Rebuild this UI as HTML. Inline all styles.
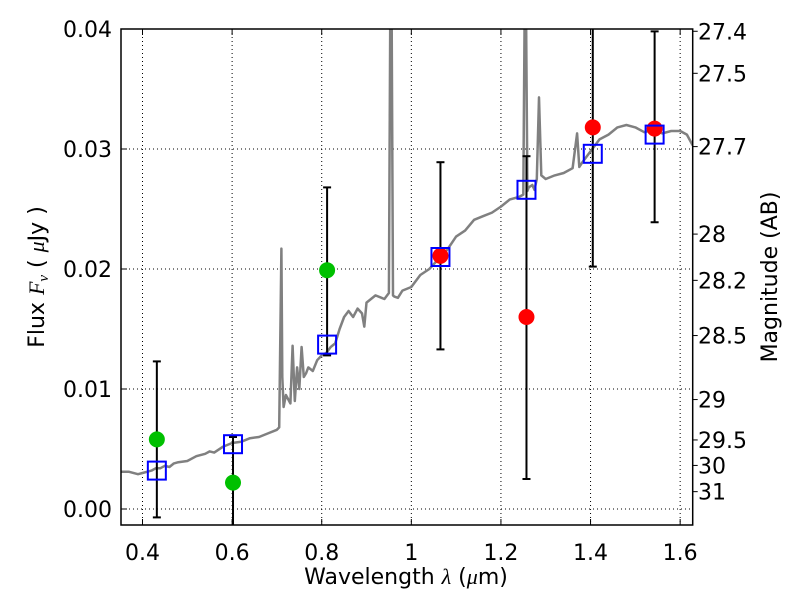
<!DOCTYPE html>
<html><head><meta charset="utf-8"><style>
body{margin:0;background:#fff}
svg{display:block;font-family:"DejaVu Sans","Liberation Sans",sans-serif}
</style></head><body>
<svg id="chart" width="800" height="600" viewBox="0 0 800 600"></svg>
<script>
const specWave=[0.352,0.37,0.39,0.40,0.41,0.42,0.43,0.44,0.45,0.46,0.47,0.48,0.50,0.52,0.54,0.55,0.56,0.58,0.60,0.62,0.64,0.66,0.68,0.70,0.705,0.71,0.712,0.715,0.72,0.73,0.735,0.74,0.745,0.75,0.755,0.76,0.765,0.77,0.78,0.79,0.80,0.81,0.82,0.83,0.84,0.85,0.86,0.87,0.88,0.89,0.895,0.90,0.92,0.94,0.95,0.953,0.956,0.959,0.962,0.97,0.98,1.0,1.02,1.04,1.06,1.08,1.10,1.12,1.14,1.16,1.18,1.20,1.22,1.24,1.25,1.253,1.256,1.259,1.262,1.27,1.275,1.28,1.285,1.29,1.30,1.32,1.34,1.36,1.37,1.375,1.38,1.40,1.42,1.44,1.46,1.48,1.50,1.52,1.54,1.56,1.58,1.60,1.615,1.628];
const specFlux=[0.0031,0.0031,0.0029,0.0030,0.0031,0.0032,0.0034,0.0034,0.0036,0.0035,0.0038,0.0039,0.0040,0.0044,0.0046,0.0048,0.0047,0.0052,0.0055,0.0056,0.0059,0.0060,0.0063,0.0066,0.0068,0.0217,0.0110,0.0085,0.0095,0.0088,0.0136,0.0090,0.0118,0.0100,0.0135,0.0110,0.0113,0.0118,0.0115,0.0124,0.0128,0.0130,0.0135,0.0138,0.0150,0.0160,0.0165,0.0160,0.0167,0.0163,0.0152,0.0172,0.0178,0.0175,0.0180,0.0420,0.0420,0.0178,0.0177,0.0176,0.0182,0.0185,0.0195,0.0200,0.0208,0.0216,0.0227,0.0232,0.0241,0.0244,0.0247,0.0252,0.0258,0.0260,0.0262,0.0420,0.0420,0.0265,0.0268,0.0270,0.0266,0.0275,0.0343,0.0278,0.0275,0.0278,0.0280,0.0284,0.0313,0.0285,0.0288,0.0298,0.0308,0.0312,0.0318,0.0320,0.0318,0.0314,0.0316,0.0313,0.0315,0.0315,0.0312,0.0303];
const sqWave=[0.432,0.602,0.812,1.065,1.257,1.405,1.543];
const sqFlux=[0.0032,0.0054,0.0137,0.0210,0.0266,0.0296,0.0312];
const greenWave=[0.432,0.602,0.812];
const greenFlux=[0.0058,0.0022,0.0199];
const redWave=[1.065,1.257,1.405,1.543];
const redFlux=[0.0211,0.0160,0.0318,0.0317];
const errWave=[0.432,0.602,0.812,1.065,1.257,1.405,1.543];
const errLow=[-0.0007,-0.0030,0.0128,0.0133,0.0025,0.0202,0.0239];
const errHigh=[0.0123,0.0060,0.0268,0.0289,0.0294,0.0420,0.0398];
const xTicks=[0.4,0.6,0.8,1.0,1.2,1.4,1.6];
const xTickLabels=["0.4","0.6","0.8","1","1.2","1.4","1.6"];
const yTicks=[0,0.01,0.02,0.03,0.04];
const yTickLabels=["0.00","0.01","0.02","0.03","0.04"];
const magTicks=[27.4,27.5,27.7,28,28.2,28.5,29,29.5,30,31];

const L=121,R=692.7,T=29,B=525;
const x0=0.352,x1=1.628;
const xs=v=>L+(v-x0)/(x1-x0)*(R-L);
const ys=v=>509-v*12000;
const NS="http://www.w3.org/2000/svg";
const svg=document.getElementById('chart');
function mk(tag,attrs,parent){const e=document.createElementNS(NS,tag);for(const k in attrs)e.setAttribute(k,attrs[k]);(parent||svg).appendChild(e);return e;}
const defs=mk('defs',{});const cp=mk('clipPath',{id:'clip'},defs);mk('rect',{x:L,y:T,width:R-L,height:B-T},cp);
const grid=mk('g',{stroke:'#000','stroke-width':1,'stroke-dasharray':'1,3'});


xTicks.forEach(t=>{const l=mk('line',{x1:xs(t),x2:xs(t),y1:T,y2:B},grid);

});
yTicks.forEach(t=>{const l=mk('line',{x1:L,x2:R,y1:ys(t),y2:ys(t)},grid);

});
const plot=mk('g',{'clip-path':'url(#clip)'});
const pts=specWave.map((w,i)=>xs(w).toFixed(1)+','+ys(specFlux[i]).toFixed(1)).join(' ');
const sp=mk('polyline',{points:pts,fill:'none',stroke:'#808080','stroke-width':2.5,'stroke-linejoin':'round'},plot);


errWave.forEach((w,i)=>{const g=mk('g',{stroke:'#000','stroke-width':2},plot);


const x=xs(w);mk('line',{x1:x,x2:x,y1:ys(errLow[i]),y2:ys(errHigh[i])},g);
mk('line',{x1:x-4,x2:x+4,y1:ys(errLow[i]),y2:ys(errLow[i])},g);
mk('line',{x1:x-4,x2:x+4,y1:ys(errHigh[i]),y2:ys(errHigh[i])},g);});
greenWave.forEach((w,i)=>{const c=mk('circle',{cx:xs(w),cy:ys(greenFlux[i]),r:8,fill:'#00c000'},plot);

});
redWave.forEach((w,i)=>{const c=mk('circle',{cx:xs(w),cy:ys(redFlux[i]),r:8,fill:'#ff0000'},plot);

});
sqWave.forEach((w,i)=>{const s=mk('rect',{x:xs(w)-9,y:ys(sqFlux[i])-9,width:18,height:18,fill:'none',stroke:'#0000ff','stroke-width':2},plot);

});
const frame=mk('rect',{x:L,y:T,width:R-L,height:B-T,fill:'none',stroke:'#000','stroke-width':1.5});


xTicks.forEach((t,i)=>{mk('line',{x1:xs(t),x2:xs(t),y1:B,y2:B-6,stroke:'#000'});mk('line',{x1:xs(t),x2:xs(t),y1:T,y2:T+6,stroke:'#000'});
const tx=mk('text',{x:xs(t),y:560,'text-anchor':'middle','font-size':22});tx.textContent=xTickLabels[i];

});
yTicks.forEach((t,i)=>{mk('line',{x1:L,x2:L+6,y1:ys(t),y2:ys(t),stroke:'#000'});
const tx=mk('text',{x:112,y:ys(t)+8,'text-anchor':'end','font-size':22});tx.textContent=yTickLabels[i];

});
magTicks.forEach(m=>{const y=ys(Math.pow(10,(23.9-m)/2.5));mk('line',{x1:R,x2:R+5,y1:y,y2:y,stroke:'#000'});
const tx=mk('text',{x:698,y:y+8,'font-size':22});tx.textContent=String(m);

});
svg.insertAdjacentHTML('beforeend',
'<text x="406" y="584" text-anchor="middle" font-size="22">Wavelength  <tspan font-style="italic" font-family="Liberation Serif,serif">λ</tspan> (<tspan font-style="italic" font-family="Liberation Serif,serif">μ</tspan>m)</text>'+
'<text transform="translate(44,277) rotate(-90)" text-anchor="middle" font-size="22">Flux  <tspan font-style="italic" font-family="Liberation Serif,serif">F</tspan><tspan font-style="italic" font-family="Liberation Serif,serif" font-size="15" dy="4">ν</tspan><tspan dy="-4">  ( </tspan><tspan font-style="italic" font-family="Liberation Serif,serif">μ</tspan>Jy )</text>'+
'<text transform="translate(777,277) rotate(-90)" text-anchor="middle" font-size="22">Magnitude (AB)</text>');
</script>
</body></html>
